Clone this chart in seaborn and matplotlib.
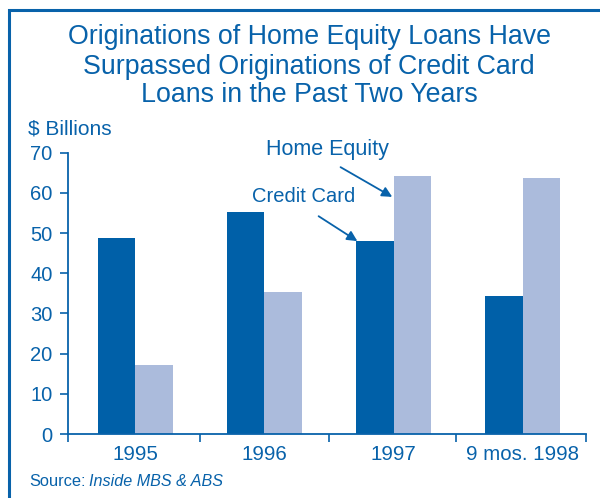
import seaborn as sns
import pandas as pd
from matplotlib import pyplot as plt
from matplotlib.patches import Rectangle

years = ['1995', '1996', '1997', '9 mos. 1998']
credit_card = [48.8, 55.3, 48.0, 34.3]
home_equity = [17.2, 35.3, 64.2, 63.7]
title_lines = ['Originations of Home Equity Loans Have',
               'Surpassed Originations of Credit Card',
               'Loans in the Past Two Years']

BLUE = '#0862aa'
DARK = '#0060a8'
LIGHT = '#abbbdc'
W, H = 600, 498

df = pd.DataFrame({
    'Year': years * 2,
    'Value': credit_card + home_equity,
    'Type': ['Credit Card'] * 4 + ['Home Equity'] * 4,
})

sns.set_style('white')
plt.rcParams['font.family'] = ['Liberation Sans', 'DejaVu Sans']


def px(x, y):
    # pixel position -> figure fraction
    return x / W, 1 - y / H


fig = plt.figure(figsize=(6, 4.98), dpi=100)
ax = fig.add_axes([68/W, 1 - 434/H, (586 - 68)/W, (434 - 152.7)/H])
sns.barplot(data=df, x='Year', y='Value', hue='Type', order=years,
            palette=[DARK, LIGHT], width=0.58, gap=0, saturation=1,
            linewidth=0, legend=False, ax=ax)

ax.set_xlim(-0.52, 3.49)
ax.set_ylim(0, 70)
ax.set_yticks(range(0, 71, 10))
ax.set_xlabel('')
ax.set_ylabel('')
for s in ['top', 'right']:
    ax.spines[s].set_visible(False)
for s in ['left', 'bottom']:
    ax.spines[s].set_color(BLUE)
    ax.spines[s].set_linewidth(1.3)
ax.tick_params(axis='y', colors=BLUE, labelsize=14.5, length=5.5, width=1.2,
               direction='out', left=True, pad=5.5)
ax.tick_params(axis='x', colors=BLUE, labelsize=14.8, length=0, pad=8)
ax.set_xticks([-0.52, 0.5, 1.5, 2.48, 3.49], minor=True)
ax.tick_params(axis='x', which='minor', length=6, width=1.2, color=BLUE,
               direction='out', bottom=True)

fig.text(*px(28, 134), '$ Billions', color=BLUE, fontsize=15,
         ha='left', va='baseline')

fig.text(*px(327, 155), 'Home Equity', color=BLUE, fontsize=15.5,
         ha='center', va='baseline')
ax.annotate('', xy=(1.99, 59.0), xytext=(1.59, 66.4),
            arrowprops=dict(arrowstyle='-|>', color=BLUE, lw=1.3,
                            mutation_scale=15, shrinkA=0, shrinkB=0))
fig.text(*px(304, 202), 'Credit Card', color=BLUE, fontsize=14.5,
         ha='center', va='baseline')
ax.annotate('', xy=(1.72, 48.0), xytext=(1.42, 54.2),
            arrowprops=dict(arrowstyle='-|>', color=BLUE, lw=1.3,
                            mutation_scale=15, shrinkA=0, shrinkB=0))

for line, base in zip(title_lines, [44, 74, 102]):
    fig.text(*px(309, base), line, color=BLUE, fontsize=19.3,
             ha='center', va='baseline')

fig.text(*px(29, 486), 'Source:', color=BLUE, fontsize=11.8,
         ha='left', va='baseline')
fig.text(*px(89, 486), 'Inside MBS & ABS', color=BLUE, fontsize=11.6,
         ha='left', va='baseline', style='italic')

fig.patches.append(Rectangle((9/W, -0.1), 1.2, 1 - 10/H + 0.1,
                             transform=fig.transFigure, fill=False,
                             edgecolor=BLUE, lw=2.2, figure=fig))

fig.savefig('out.png', dpi=100)
